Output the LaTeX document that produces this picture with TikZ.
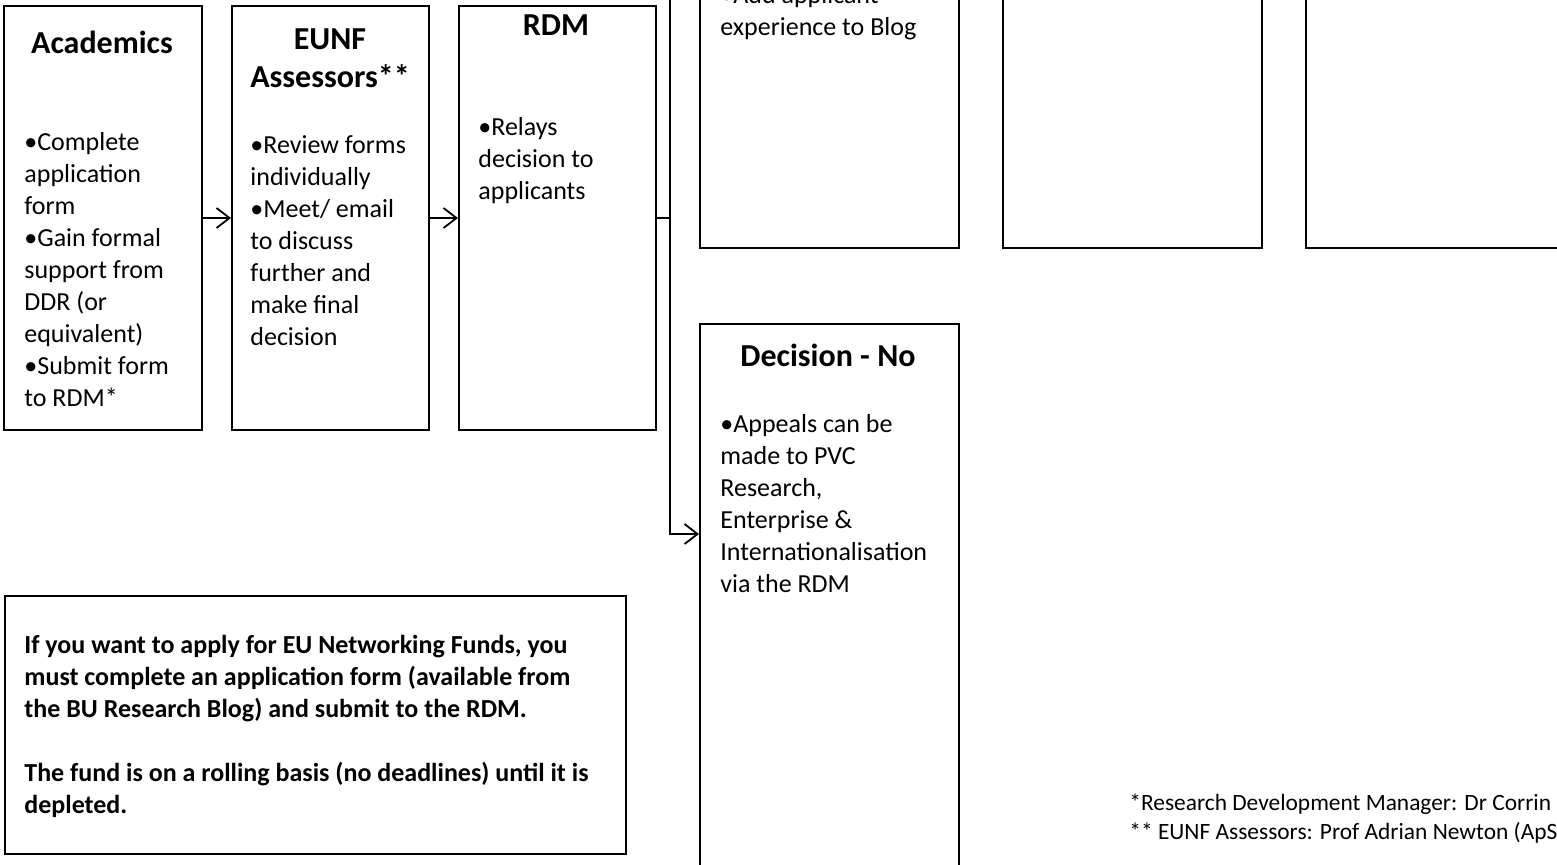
\documentclass[tikz,border=0pt]{standalone}
\usepackage{fontspec}
\setmainfont{Carlito}
\usetikzlibrary{arrows.meta,calc}

\begin{document}
\begin{tikzpicture}[x=0.5pt,y=-0.5pt,
  box/.style={draw,line width=1pt,inner sep=0pt,anchor=north west},
  head/.style={font=\fontsize{16}{19}\selectfont\bfseries,align=center,anchor=base,inner sep=0pt},
  body/.style={font=\fontsize{13}{16}\selectfont,align=left,anchor=base west,inner sep=0pt},
  note/.style={font=\fontsize{11.7}{14.5}\selectfont,align=left,anchor=base west,inner sep=0pt},
  link/.style={line width=0.9pt},
  flow/.style={link,-{Straight Barb[length=6.5pt,width=10pt]}}]
\useasboundingbox (0,0) rectangle (1557,864);
\clip (0,0) rectangle (1557,864);
% process boxes
\node[box,minimum width=99pt,minimum height=212pt] (acad) at (3,5) {};
\node[box,minimum width=98.5pt,minimum height=212pt] (eunf) at (231,5) {};
\node[box,minimum width=98.5pt,minimum height=212pt] (rdm) at (458,5) {};
\foreach \n/\x in {yes/699,mid/1002,last/1305}{\node[box,minimum width=129.5pt,minimum height=273.5pt] (\n) at (\x,-300) {};}
\node[box,minimum width=129.5pt,minimum height=338.5pt] (no) at (699,323) {};
\node[box,minimum width=310.5pt,minimum height=129pt] (info) at (4,595) {};
% titles (anchored at the last baseline)
\node[head] (acadT) at (102,53) {Academics};
\node[head] (eunfT) at (330,87) {EUNF\\Assessors**};
\node[head] (rdmT) at (556,35) {RDM};
\node[head] (noT) at (828,366) {Decision - No};
% bullet texts (anchored at the last baseline)
\node[body] (acadB) at (24,406) {•Complete\\application\\form\\•Gain formal\\support from\\DDR (or\\equivalent)\\•Submit form\\to RDM*};
\node[body] (eunfB) at (250,345) {•Review forms\\individually\\•Meet/ email\\to discuss\\further and\\make final\\decision};
\node[body] (rdmB) at (478,199) {•Relays\\decision to\\applicants};
\node[body] (yesB) at (720,35) {•Add applicant\\experience to Blog};
\node[body] (noB) at (720,592) {•Appeals can be\\made to PVC\\Research,\\Enterprise \&\\Internationalisation\\via the RDM};
\node[body,font=\fontsize{13}{16}\selectfont\bfseries] (infoB) at (24,813) {If you want to apply for EU Networking Funds, you\\must complete an application form (available from\\the BU Research Blog) and submit to the RDM.\\[16pt]The fund is on a rolling basis (no deadlines) until it is\\depleted.};
\node[note] (fn) at (1129,839) {*Research Development Manager: Dr Corrin\\** EUNF Assessors: Prof Adrian Newton (ApS};
% connectors
\coordinate (up) at (670,-10);
\draw[flow] (acad.east) -- (eunf.west);
\draw[flow] (eunf.east) -- (rdm.west);
\draw[link] (rdm.east) -- (rdm.east -| up);
\draw[flow] (up) |- ($(no.north west)+(0,211)$);
\end{tikzpicture}
\end{document}
